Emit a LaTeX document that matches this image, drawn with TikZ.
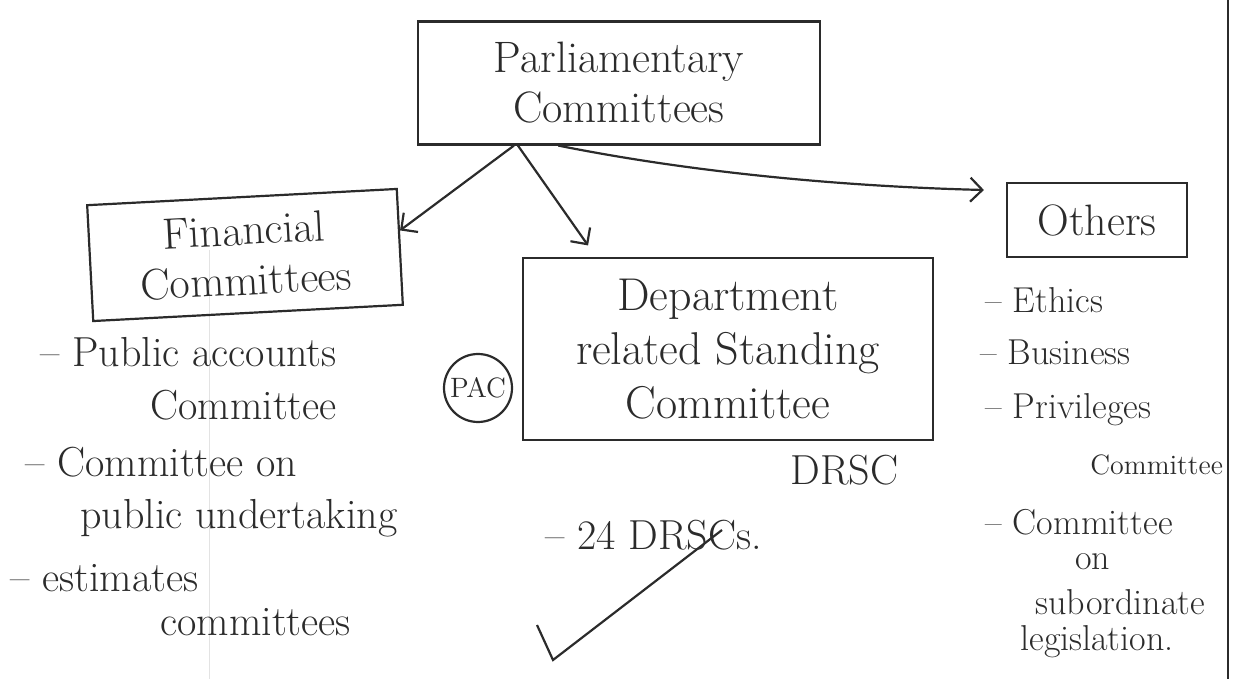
\documentclass[tikz,border=0pt]{standalone}
\usetikzlibrary{arrows.meta,calc}
\definecolor{inkc}{HTML}{2B2B2B}
\newcommand{\handbox}{\fontsize{22}{25}\selectfont}
\newcommand{\handbig}{\fontsize{21}{24}\selectfont}
\newcommand{\handmid}{\fontsize{18}{21}\selectfont}
\newcommand{\handsmall}{\fontsize{14}{16}\selectfont}
\begin{document}
\begin{tikzpicture}[x=0.5pt,y=-0.5pt,
  ink/.style={draw=inkc, line width=1.1pt},
  box/.style={ink, rectangle, inner sep=0pt, align=center, text=inkc, font=\handbox},
  lbl/.style={inner sep=0pt, anchor=west, text=inkc, font=\handbig},
  olbl/.style={lbl, font=\handmid},
  link/.style={ink, -{Straight Barb[length=6pt,width=12pt]}},
]
\path[use as bounding box] (0,0) rectangle (1260,679);

% notebook rules
\draw[gray!22, line width=0.4pt] (209,250) -- (209,679);
\draw[inkc, line width=1.3pt] (1228,0) -- (1228,679);

% boxes
\node[box, minimum width=201pt, minimum height=61.5pt] (parl) at (619,83) {Parliamentary\\Committees};
\node[box, minimum width=155pt, minimum height=58pt, rotate=3] (fin) at (245,255) {Financial\\Committees};
\node[box, minimum width=205pt, minimum height=91pt, font=\fontsize{23}{27}\selectfont] (dept) at (728,349) {Department\\related Standing\\Committee};
\node[box, minimum width=90pt, minimum height=37pt] (oth) at (1097,220) {Others};

% branches
\draw[link] ($(parl.south west)!0.24!(parl.south east)$) -- (fin.6);
\draw[link, shorten >=7pt] ($(parl.south west)!0.25!(parl.south east)$) -- ($(dept.north west)!0.18!(dept.north east)$);
\draw[link] ($(parl.south west)!0.35!(parl.south east)$) .. controls +(150,30) and +(-120,-3) .. ($(oth.west)+(-22,-30)$);

% financial committees
\node[lbl] (fa) at (40,352) {-- Public accounts};
\node[lbl] (fb) at (150,405) {Committee};
\node[ink, circle, minimum size=34pt, inner sep=0pt, text=inkc, font=\handsmall] (pac) at (478,388) {PAC};
\node[lbl] (fc) at (25,462) {-- Committee on};
\node[lbl] (fd) at (80,518) {public undertaking};
\node[lbl] (fe) at (10,578) {-- estimates};
\node[lbl] (ff) at (160,622) {committees};

% departmental standing committees
\node[lbl] (da) at (790,470) {DRSC};
\node[lbl] (db) at (545,535) {-- 24 DRSCs.};
\draw[ink] (537,625) -- (553,660) -- (722,530);

% other committees
\node[olbl] (oa) at (985,300) {-- Ethics};
\node[olbl] (ob) at (980,352) {-- Business};
\node[olbl] (oc) at (985,410) {-- Privileges};
\node[olbl, font=\handsmall] (od) at (1090,465) {Committee};
\node[olbl] (oe) at (985,522) {-- Committee};
\node[olbl] (of) at (1075,562) {on};
\node[olbl] (og) at (1035,602) {subordinate};
\node[olbl] (oh) at (1020,642) {legislation.};
\end{tikzpicture}
\end{document}
